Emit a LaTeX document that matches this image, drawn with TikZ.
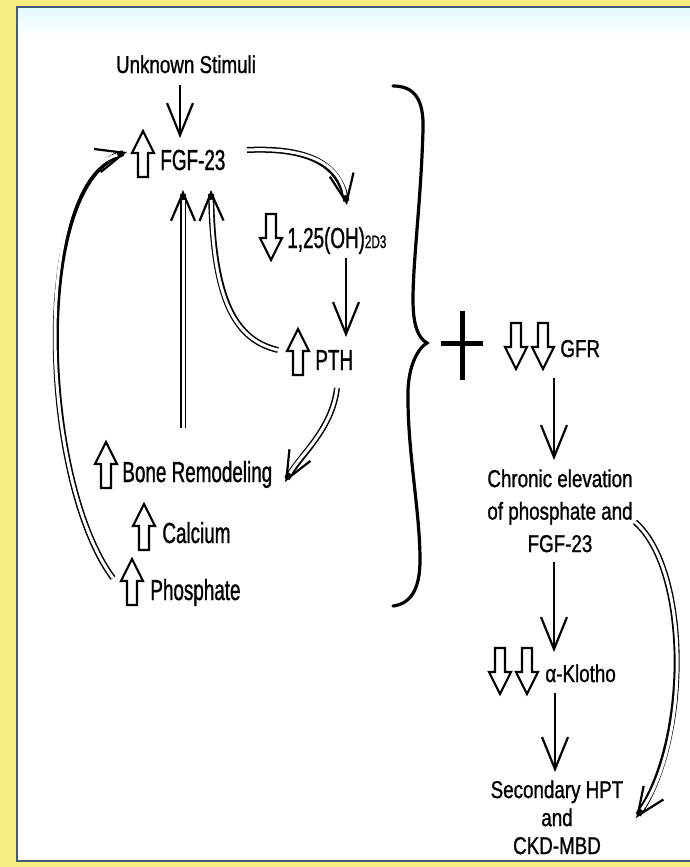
\documentclass[tikz,border=0pt]{standalone}
\usepackage{fontspec}
\setmainfont{Liberation Sans}
\newfontfamily\leftfont{Liberation Sans}[FakeStretch=0.65, FakeBold=1]
\newfontfamily\rightfont{Liberation Sans}[FakeStretch=0.77, FakeBold=1]
\usetikzlibrary{arrows.meta}
\definecolor{panelyellow}{RGB}{246,238,128}
\definecolor{panelborder}{RGB}{72,92,112}
\definecolor{paneltint}{RGB}{226,250,255}

\begin{document}
\begin{tikzpicture}[x=0.5pt, y=-0.5pt,
    lbl/.style={inner sep=0pt, font=\leftfont\fontsize{14.5}{17}\selectfont},
    rlbl/.style={inner sep=0pt, font=\rightfont\fontsize{12.2}{16.25}\selectfont, align=center},
    arr/.style={line width=1.1pt, -{Straight Barb[length=16pt, width=13pt, line width=1.1pt]}},
    dbl/.style={line width=3pt, -{Straight Barb[length=14pt, width=12pt, line width=1.1pt]},
        postaction={draw=white, line width=1.5pt, -, shorten >=5pt}},
    glyph/.style={draw, line width=1.1pt, fill=white, line join=miter},
    uparr/.pic={\draw[glyph] (0,-23) -- (11,-1) -- (5,-1) -- (5,23) -- (-5,23) -- (-5,-1) -- (-11,-1) -- cycle;},
    downarr/.pic={\draw[glyph] (0,23) -- (11,1) -- (5,1) -- (5,-23) -- (-5,-23) -- (-5,1) -- (-11,1) -- cycle;}]

    % Sfondo e pannello
    \useasboundingbox (0,0) rectangle (690,867);
    \fill[panelyellow] (0,0) rectangle (690,867);
    \fill[white] (17,7) rectangle (690,861);
    \shade[top color=paneltint, bottom color=white] (17,7) rectangle (690,40);
    \draw[panelborder, line width=1.2pt] (690,861) -- (17,861) -- (17,7) -- (690,7);

    % Ciclo di sinistra
    \node[rlbl, anchor=base] (stim) at (186,73) {Unknown Stimuli};
    \node[lbl, anchor=base west] (fgf) at (160,170) {FGF-23};
    \node[lbl, anchor=base west] (vitd) at (287,248) {1,25(OH){\fontsize{9}{10}\selectfont 2D3}};
    \node[lbl, anchor=base west] (pth) at (315,370) {PTH};
    \node[lbl, anchor=base west] (bone) at (122,482) {Bone Remodeling};
    \node[lbl, anchor=base west] (calc) at (162,543) {Calcium};
    \node[lbl, anchor=base west] (phos) at (150,600) {Phosphate};

    \pic at (143,154) {uparr};
    \pic at (271,237) {downarr};
    \pic at (298,352) {uparr};
    \pic at (106,465) {uparr};
    \pic at (144,527) {uparr};
    \pic at (132,582) {uparr};

    \coordinate (stim-out) at (180,85);
    \coordinate (fgf-in) at (180,138);
    \coordinate (fgf-out) at (247,150);
    \coordinate (vitd-in) at (347,205);
    \coordinate (vitd-out) at (346,258);
    \coordinate (pth-in) at (346,337);
    \coordinate (pth-left) at (278,350);
    \coordinate (pth-down) at (337,388);
    \coordinate (bone-in) at (285,482);
    \coordinate (bone-out) at (183,428);
    \coordinate (fgf-in1) at (183,190);
    \coordinate (fgf-in2) at (211,190);
    \coordinate (phos-out) at (113,578);
    \coordinate (fgf-left) at (127,152);

    \draw[arr] (stim-out) -- (fgf-in);
    \draw[dbl] (fgf-out) .. controls (310,147) and (340,165) .. (vitd-in);
    \draw[arr] (vitd-out) -- (pth-in);
    \draw[dbl] (pth-left) .. controls (235,340) and (213,300) .. (fgf-in2);
    \draw[dbl] (pth-down) .. controls (332,430) and (300,455) .. (bone-in);
    \draw[dbl] (bone-out) -- (fgf-in1);
    \draw[dbl] (phos-out) .. controls (40,480) and (30,180) .. (fgf-left);

    % Parentesi graffa e segno piu
    \draw[line width=1.6pt, line cap=round] (393,86) .. controls (415,86) and (424,100) .. (423,130)
        .. controls (421,200) and (413,260) .. (413,300)
        .. controls (413,325) and (418,338) .. (427,343)
        .. controls (418,348) and (409,365) .. (408,390)
        .. controls (407,450) and (420,510) .. (420,560)
        .. controls (420,590) and (410,604) .. (393,606);
    \draw[line width=2.5pt] (441,343) -- (483,343);
    \draw[line width=2.5pt] (462,311) -- (462,380);

    % Colonna di destra
    \node[rlbl, anchor=base west] (gfr) at (560,357) {GFR};
    \node[rlbl, anchor=north] (chronic) at (560,469) {Chronic elevation\\of phosphate and\\FGF-23};
    \node[rlbl, anchor=base west] (klotho) at (545,682) {α-Klotho};
    \node[rlbl, anchor=north, font=\rightfont\fontsize{12.2}{14}\selectfont] (hpt) at (557,780) {Secondary HPT\\and\\CKD-MBD};

    \pic at (516,346) {downarr};
    \pic at (543,346) {downarr};
    \pic at (500,671) {downarr};
    \pic at (527,671) {downarr};

    \coordinate (gfr-out) at (554,378);
    \coordinate (chronic-in) at (554,460);
    \coordinate (chronic-out) at (554,562);
    \coordinate (klotho-in) at (554,652);
    \coordinate (klotho-out) at (555,693);
    \coordinate (hpt-in) at (555,772);
    \coordinate (chronic-right) at (635,522);
    \coordinate (hpt-right) at (636,818);

    \draw[arr] (gfr-out) -- (chronic-in);
    \draw[arr] (chronic-out) -- (klotho-in);
    \draw[arr] (klotho-out) -- (hpt-in);
    \draw[dbl] (chronic-right) .. controls (690,570) and (690,740) .. (hpt-right);
\end{tikzpicture}
\end{document}
